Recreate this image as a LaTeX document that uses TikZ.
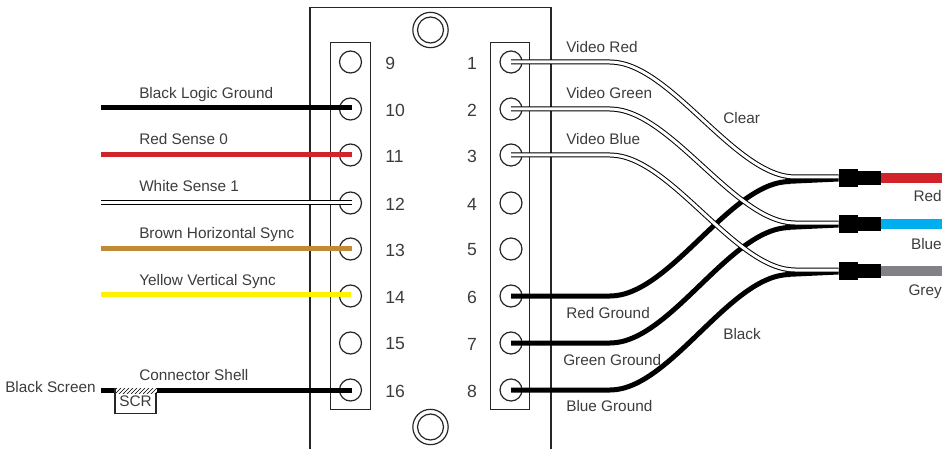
\documentclass[tikz,border=0pt]{standalone}
\usepackage{fontspec}
\setmainfont{Liberation Sans}
\usetikzlibrary{patterns}
\definecolor{txt}{HTML}{3C3C3C}
\definecolor{wred}{HTML}{D2232A}
\definecolor{wblue}{HTML}{00AEEF}
\definecolor{wgrey}{HTML}{808285}
\definecolor{wbrown}{HTML}{C08A36}
\definecolor{wyellow}{HTML}{FFF200}
\tikzset{
  x=0.75pt,y=-0.75pt,
  lab/.style={font=\fontsize{11.5}{13}\selectfont,text=txt,inner sep=0pt,anchor=base west},
  num/.style={font=\fontsize{13.2}{15}\selectfont,text=txt,inner sep=0pt},
  strip/.style={draw=black!85,line width=0.9pt,fill=white},
  pin/.style={circle,draw=black!85,line width=0.9pt,minimum size=16.5pt,inner sep=0pt,fill=white},
  wire/.style={line width=3.75pt},
  whitecore/.style={draw=white,line width=2.25pt},
  whiteouter/.style={draw=black,line width=3.75pt},
  plug/.style={fill=black,draw=none,inner sep=0pt},
}
\begin{document}
\begin{tikzpicture}
\useasboundingbox (0,0) rectangle (949,449);
% housing
\draw[black!85,line width=1pt] (310,449) -- (310,7.5) -- (551,7.5) -- (551,449);
\node[strip,minimum width=29.5pt,minimum height=275pt,inner sep=0pt] (sl) at (350.5,226) {};
\node[strip,minimum width=29.5pt,minimum height=275pt,inner sep=0pt] (sr) at (510,226) {};
\foreach \n/\p in {t/30,b/427}{
  \node[circle,draw=black!85,line width=0.9pt,minimum size=26.5pt,inner sep=0pt] (so\n) at (430.5,\p) {};
  \node[circle,draw=black!85,line width=0.9pt,minimum size=19.5pt,inner sep=0pt] (si\n) at (430.5,\p) {};
}
% pins
\foreach \i/\y in {9/62,10/109,11/155,12/203,13/249,14/296,15/343,16/390}{
  \node[pin] (p\i) at (350.5,\y) {};
  \node[num,anchor=west] (n\i) at (385,\y+1) {\i};
}
\foreach \i/\y in {1/62,2/109,3/155,4/203,5/249,6/296,7/343,8/390}{
  \node[pin] (p\i) at (511,\y) {};
  \node[num] (n\i) at (472,\y+1) {\i};
}
% left wires
\coordinate (a10) at (101,108); \coordinate (a11) at (101,155); \coordinate (a12) at (101,202);
\coordinate (a13) at (101,248); \coordinate (a14) at (101,294); \coordinate (a16) at (101,390.5);
\draw[wire,black,shorten >=-1.1pt] (a10) -- (a10 -| p10.center);
\draw[wire,wred,shorten >=-1.1pt] (a11) -- (a11 -| p11.center);
\draw[whiteouter,shorten >=-1.1pt] (a12) -- (a12 -| p12.center);
\draw[whitecore,shorten >=-1.1pt] (a12) -- (a12 -| p12.center);
\draw[wire,wbrown,shorten >=-1.1pt] (a13) -- (a13 -| p13.center);
\draw[wire,wyellow,shorten >=-0.4pt] (a14) -- (a14 -| p14.center);
\draw[wire,black,shorten >=-1.1pt] (a16) -- (a16 -| p16.center);
% plugs
\foreach \n/\y/\c in {r/178/wred,b/224/wblue,g/271/wgrey}{
  \node[plug,minimum width=14.25pt,minimum height=13.5pt] (k\n) at (848.5,\y) {};
  \node[plug,minimum width=17.25pt,minimum height=10.5pt] (m\n) at (869.5,\y) {};
  \coordinate (e\n) at (942,\y);
  \draw[line width=7.5pt,\c] (m\n.east) -- (e\n);
}
% black wires
\foreach \s/\y/\n/\d in {6/296/r/181.5,7/343/b/227.5,8/390/g/274.5}{
  \draw[wire,black] (p\s.center) -- (610,\y)
    .. controls (670,\y) and (730,\d) .. (790,\d);
  \fill[black] (785,\d-3) -- (k\n.west |- 0,\d-2.5) -- (k\n.west |- 0,\d) -- (785,\d+2.5) -- cycle;
}
% white wires
\foreach \s/\y/\n/\d in {1/62/r/177,2/109/b/223,3/155/g/270}{
  \draw[whiteouter] (p\s.center) -- (610,\y)
    .. controls (670,\y) and (735,\d) .. (795,\d) -- (k\n.west |- 0,\d);
  \draw[whitecore] (p\s.center) -- (610,\y)
    .. controls (670,\y) and (735,\d) .. (795,\d) -- (k\n.west |- 0,\d);
}
% SCR
\node[draw=black!85,line width=0.8pt,fill=white,minimum width=30.75pt,minimum height=18.5pt,inner sep=0pt,font=\fontsize{11.5}{13}\selectfont,text=txt] (scr) at (135.5,401) {SCR};
\fill[white] (116,388) rectangle (157,393);
\fill[pattern=north east lines,pattern color=black] (116,388) rectangle (157,393);
% labels
\node[lab] (l1) at (139,98.5) {Black Logic Ground};
\node[lab] (l2) at (139,145) {Red Sense 0};
\node[lab] (l3) at (139,191) {White Sense 1};
\node[lab] (l4) at (139,238) {Brown Horizontal Sync};
\node[lab] (l5) at (139,285) {Yellow Vertical Sync};
\node[lab] (l6) at (139,380) {Connector Shell};
\node[lab] (l7) at (5,392.5) {Black Screen};
\node[lab] (l8) at (566,52.5) {Video Red};
\node[lab] (l9) at (566,98.5) {Video Green};
\node[lab] (l10) at (566,145) {Video Blue};
\node[lab] (l11) at (723,124) {Clear};
\node[lab] (l12) at (566,318) {Red Ground};
\node[lab] (l13) at (563,365) {Green Ground};
\node[lab] (l14) at (566,411) {Blue Ground};
\node[lab] (l15) at (723,339) {Black};
\node[lab,anchor=base east] (l16) at (942,201.5) {Red};
\node[lab,anchor=base east] (l17) at (942,249) {Blue};
\node[lab,anchor=base east] (l18) at (942,295) {Grey};
\end{tikzpicture}
\end{document}
